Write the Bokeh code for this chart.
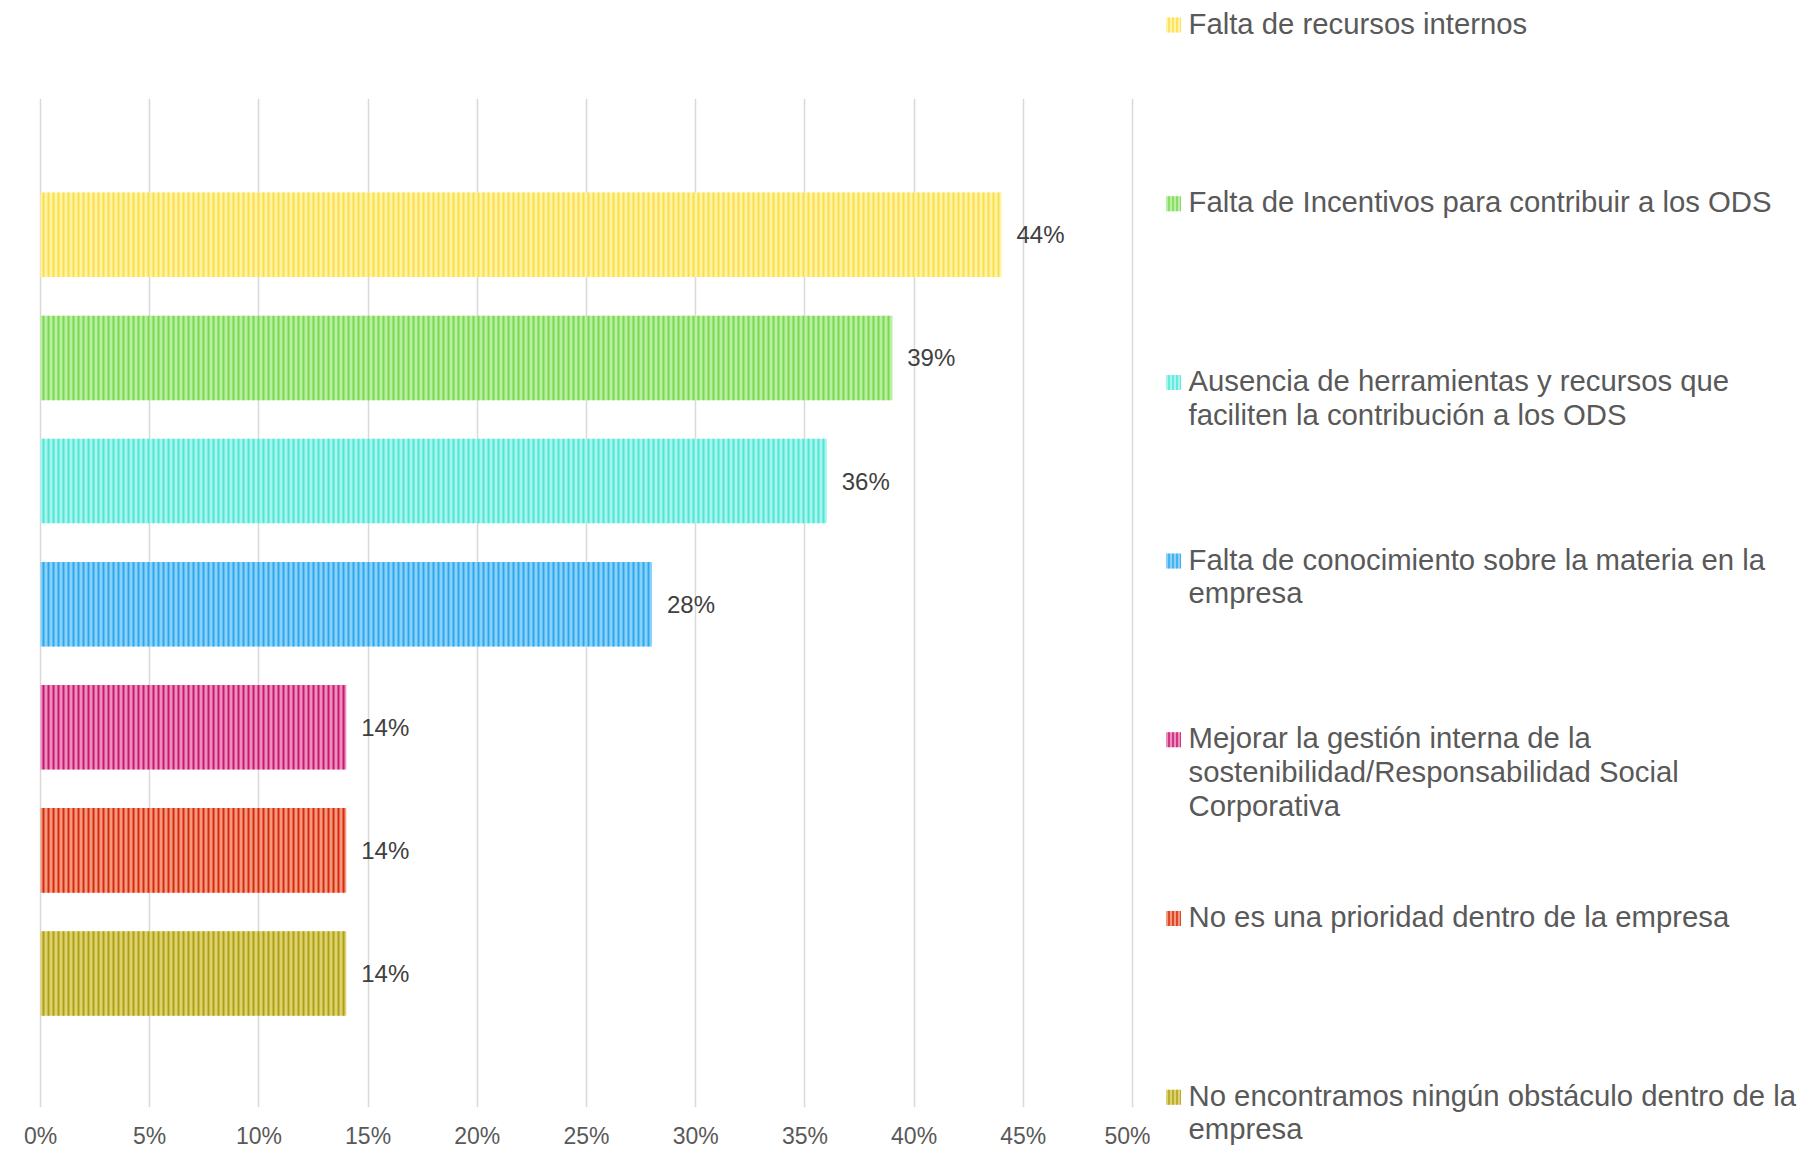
from bokeh.plotting import figure
from bokeh.models import Range1d, FixedTicker, ColumnDataSource
from bokeh.layouts import row
from bokeh.core.properties import value
from bokeh.embed import file_html
from bokeh.resources import INLINE

# ---- data ----
categories = [
    "Falta de recursos internos",
    "Falta de Incentivos para contribuir a los ODS",
    "Ausencia de herramientas y recursos que faciliten la contribución a los ODS",
    "Falta de conocimiento sobre la materia en la empresa",
    "Mejorar la gestión interna de la sostenibilidad/Responsabilidad Social Corporativa",
    "No es una prioridad dentro de la empresa",
    "No encontramos ningún obstáculo dentro de la empresa",
]
legend_labels = [
    "Falta de recursos internos",
    "Falta de Incentivos para contribuir a los ODS",
    "Ausencia de herramientas y recursos que\nfaciliten la contribución a los ODS",
    "Falta de conocimiento sobre la materia en la\nempresa",
    "Mejorar la gestión interna de la\nsostenibilidad/Responsabilidad Social\nCorporativa",
    "No es una prioridad dentro de la empresa",
    "No encontramos ningún obstáculo dentro de la\nempresa",
]
values = [44, 39, 36, 28, 14, 14, 14]
fill_colors = ["#FFF3A4", "#B8EFA2", "#A6F6ED", "#8AD2F8", "#EC8EBE", "#F29A80", "#DCD270"]
hatch_colors = ["#F8DE4C", "#7AD850", "#50E5D5", "#2EA7EE", "#C6186E", "#D82A0E", "#B0A016"]
ticks = [0, 5, 10, 15, 20, 25, 30, 35, 40, 45, 50]
tick_labels = ["0%", "5%", "10%", "15%", "20%", "25%", "30%", "35%", "40%", "45%", "50%"]

FONT = "Liberation Sans"
n = len(categories)
ypos = [n - 1 - i for i in range(n)]

src = ColumnDataSource(dict(
    y=ypos, v=values, fill=fill_colors, hatch=hatch_colors,
    lab=[f"{v}%" for v in values],
))

W, H = 1808, 1151
W1 = 1150
pad = 2 / 21.84  # ~2px so that the 0% and 50% gridlines are not clipped
p = figure(width=W1, height=H, output_backend="svg", toolbar_location=None,
           x_range=Range1d(0 - pad, 50 + pad), y_range=Range1d(-1.088, n + 0.107),
           y_axis_location=None, min_border_left=38, min_border_right=W1 - 1134,
           min_border_top=98, min_border_bottom=41)
p.outline_line_color = None
p.frame_align = False

p.hbar(y="y", right="v", left=0, height=0.687, source=src,
       fill_color="fill", line_color=None,
       hatch_pattern="vertical_line", hatch_color="hatch",
       hatch_scale=5, hatch_weight=2)

p.text(x="v", y="y", text="lab", source=src, x_offset=15,
       text_baseline="middle", text_align="left",
       text_font=value(FONT), text_font_size="24px", text_color="#404040")

ax = p.xaxis[0]
ax.ticker = FixedTicker(ticks=ticks)
ax.major_label_overrides = {t: l for t, l in zip(ticks, tick_labels)}
ax.axis_line_color = None
ax.major_tick_line_color = None
ax.minor_tick_line_color = None
ax.major_tick_in = 0
ax.major_tick_out = 0
ax.major_label_standoff = 15
ax.major_label_text_font = FONT
ax.major_label_text_font_size = "23px"
ax.major_label_text_color = "#595959"

p.xgrid.ticker = FixedTicker(ticks=ticks)
p.xgrid.grid_line_color = "#D9D9D9"
p.xgrid.grid_line_width = 1.5
p.ygrid.visible = False

# ---- legend panel ----
W2 = W - W1
lg = figure(width=W2, height=H, output_backend="svg", toolbar_location=None,
            x_range=Range1d(0, W2), y_range=Range1d(H, 0),
            x_axis_location=None, y_axis_location=None,
            min_border_left=0, min_border_right=0, min_border_top=0, min_border_bottom=0)
lg.outline_line_color = None
lg.grid.visible = False
lg.frame_align = False

step = 178.7
lsrc = ColumnDataSource(dict(
    sx=[23] * n, sy=[24.5 + i * step for i in range(n)],
    tx=[38] * n, ty=[6 + i * step for i in range(n)],
    lab=legend_labels, fill=fill_colors, hatch=hatch_colors,
))
lg.rect(x="sx", y="sy", width=15, height=15, source=lsrc,
        fill_color="fill", line_color=None,
        hatch_pattern="vertical_line", hatch_color="hatch",
        hatch_scale=4, hatch_weight=1.5)
lg.text(x="tx", y="ty", text="lab", source=lsrc,
        text_baseline="top", text_align="left", text_line_height=1.02,
        text_font=value(FONT), text_font_size="29.3px", text_color="#595959")

layout = row(p, lg)
open("out.html", "w").write(file_html(layout, INLINE))
